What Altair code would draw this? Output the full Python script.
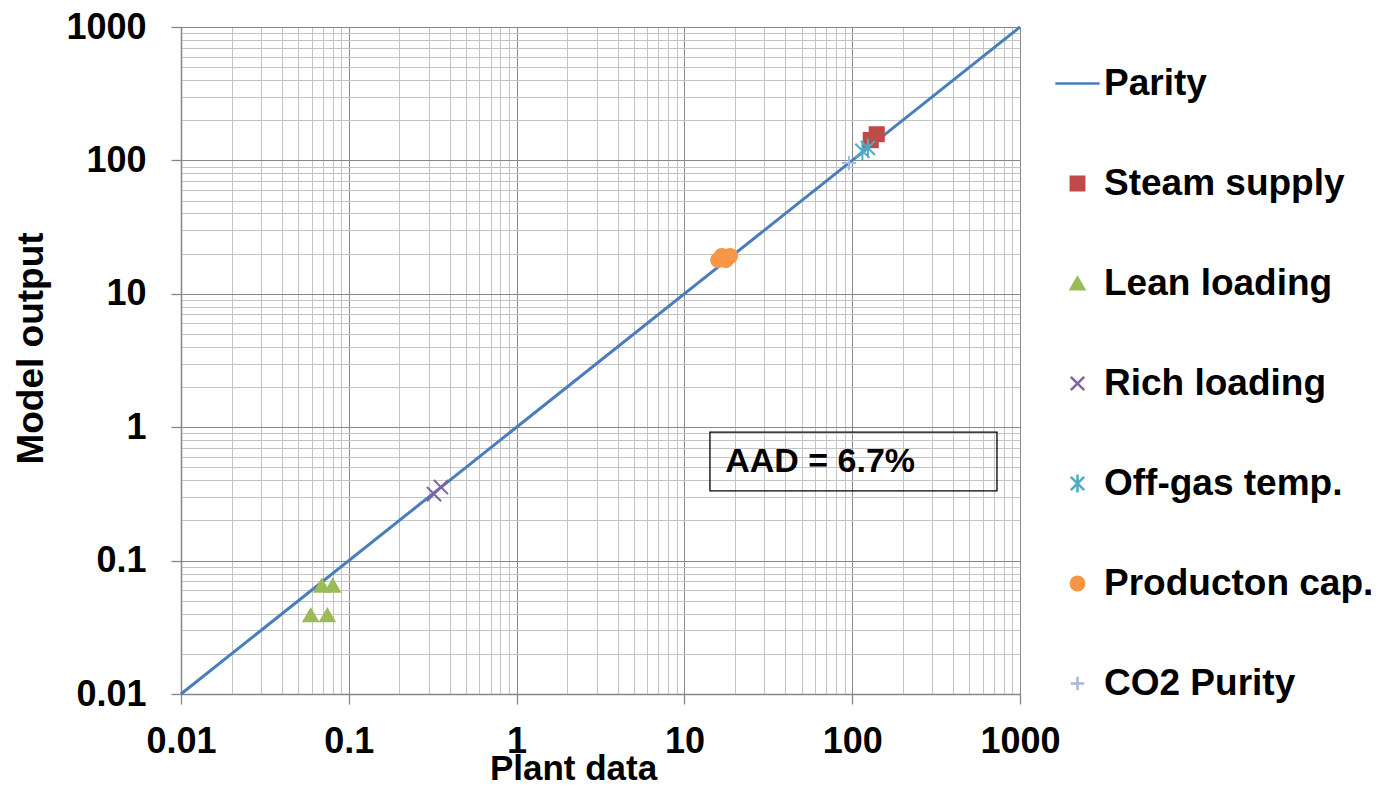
import altair as alt
import pandas as pd

# ---------------- data ----------------
series = ["Parity", "Steam supply", "Lean loading", "Rich loading",
          "Off-gas temp.", "Producton cap.", "CO2 Purity"]
colors = ["#4a7ebb", "#be4b48", "#9bbb59", "#8064a2", "#4bacc6", "#f79646", "#a5b8e0"]

LINE_PATH = "M-3.3,0L3.3,0"
X_PATH = "M-1,-1L1,1M-1,1L1,-1"
AST_PATH = "M-1,-1L1,1M-1,1L1,-1M0,-1.35L0,1.35"
PLUS_PATH = "M-1,0L1,0M0,-1L0,1"
shapes = [LINE_PATH, "square", "triangle-up", X_PATH, AST_PATH, "circle", PLUS_PATH]

parity_x = [0.01, 1000]
parity_y = [0.01, 1000]

steam_x = [129, 140]
steam_y = [142, 157]
lean_x = [0.069, 0.0802, 0.0593, 0.0745]
lean_y = [0.065, 0.065, 0.0391, 0.0391]
rich_x = [0.322, 0.354]
rich_y = [0.315, 0.356]
offgas_x = [115, 124]
offgas_y = [118, 124]
prod_x = [15.9, 16.7, 17.7, 18.7]
prod_y = [17.9, 19.2, 17.9, 19.2]
co2_x = [95.7]
co2_y = [95.5]

tick_values = [0.01, 0.02, 0.03, 0.04, 0.05, 0.06, 0.07, 0.08, 0.09,
               0.1, 0.2, 0.3, 0.4, 0.5, 0.6, 0.7, 0.8, 0.9,
               1, 2, 3, 4, 5, 6, 7, 8, 9,
               10, 20, 30, 40, 50, 60, 70, 80, 90,
               100, 200, 300, 400, 500, 600, 700, 800, 900, 1000]

aad_label = ["AAD = 6.7%"]
aad_box_x = [14.2, 729]
aad_box_y = [0.333, 0.92]
aad_text_xy = [17.5, 0.55]

# ---------------- tables ----------------
parity_df = pd.DataFrame({"x": parity_x, "y": parity_y})
groups = [("Steam supply", steam_x, steam_y), ("Lean loading", lean_x, lean_y),
          ("Rich loading", rich_x, rich_y), ("Off-gas temp.", offgas_x, offgas_y),
          ("Producton cap.", prod_x, prod_y), ("CO2 Purity", co2_x, co2_y)]
rows = []
for name, xs_, ys_ in groups:
    for a, b in zip(xs_, ys_):
        rows.append({"series": name, "x": a, "y": b})
pts_df = pd.DataFrame(rows)
box_df = pd.DataFrame({"x": [aad_box_x[0]], "x2": [aad_box_x[1]],
                       "y": [aad_box_y[0]], "y2": [aad_box_y[1]]})
txt_df = pd.DataFrame({"x": [aad_text_xy[0]], "y": [aad_text_xy[1]], "t": aad_label})

FONT = "Liberation Sans"
MAJOR = "abs(log(datum.value)/LN10 - round(log(datum.value)/LN10)) < 1e-6"


def make_axis(title, title_size, **kw):
    return alt.Axis(
        values=tick_values, title=title, format="~g",
        labelExpr=f"({MAJOR}) ? datum.label : ''",
        grid=True,
        gridColor={"condition": {"test": MAJOR, "value": "#888888"}, "value": "#c4c4c4"},
        gridWidth=1,
        tickColor="#868686", tickWidth=1.3,
        tickOpacity={"condition": {"test": MAJOR, "value": 1}, "value": 0},
        tickSize=10, domainColor="#868686", domainWidth=1.5,
        labelFont=FONT, labelFontSize=36, labelFontWeight="bold", labelColor="black",
        titleFont=FONT, titleFontSize=title_size, titleFontWeight="bold", titleColor="black",
        labelOverlap=False, labelBound=False, labelFlush=False,
        **kw,
    )


x_axis = make_axis("Plant data", 35, labelPadding=20, titleX=392, titleY=85,
                   titleBaseline="alphabetic", titleAlign="center")
y_axis = make_axis("Model output", 37, labelPadding=25, titleX=-139, titleY=321,
                   titleBaseline="alphabetic", titleAlign="center", titleAngle=270)

xs = alt.Scale(type="log", domain=[0.01, 1000], nice=False)
ys = alt.Scale(type="log", domain=[0.01, 1000], nice=False)

parity = alt.Chart(parity_df).mark_line(color=colors[0], strokeWidth=3).encode(
    x=alt.X("x:Q", scale=xs, axis=x_axis),
    y=alt.Y("y:Q", scale=ys, axis=y_axis),
)

legend = alt.Legend(
    title=None, orient="none", legendX=878, legendY=38, padding=0,
    labelFont=FONT, labelFontSize=37, labelFontWeight="bold", labelColor="black",
    labelLimit=500, symbolSize=180,
    rowPadding=62, labelOffset=8, symbolStrokeWidth=2.5, symbolOpacity=1,
    values=series,
)

points = alt.Chart(pts_df).mark_point(filled=True, strokeWidth=2, opacity=1, size=200).encode(
    x=alt.X("x:Q", scale=xs, axis=x_axis),
    y=alt.Y("y:Q", scale=ys, axis=y_axis),
    color=alt.Color("series:N", scale=alt.Scale(domain=series, range=colors), legend=legend),
    shape=alt.Shape("series:N", scale=alt.Scale(domain=series, range=shapes), legend=legend),
    stroke=alt.Stroke("series:N", scale=alt.Scale(domain=series, range=colors), legend=legend),
)

box = alt.Chart(box_df).mark_rect(fillOpacity=0, stroke="black", strokeWidth=1.3).encode(
    x="x:Q", x2="x2:Q", y="y:Q", y2="y2:Q",
)
txt = alt.Chart(txt_df).mark_text(
    align="left", baseline="middle", font=FONT, fontSize=34, fontWeight="bold", color="black"
).encode(x="x:Q", y="y:Q", text="t:N")

chart = alt.layer(parity, box, txt, points).properties(
    width=839, height=667,
    autosize=alt.AutoSizeParams(type="none"),
    padding={"left": 173, "top": 19, "right": 363, "bottom": 86},
).configure_view(strokeWidth=0).configure(background="white")

chart.save("out.html", embed_options={"renderer": "svg", "actions": False})
